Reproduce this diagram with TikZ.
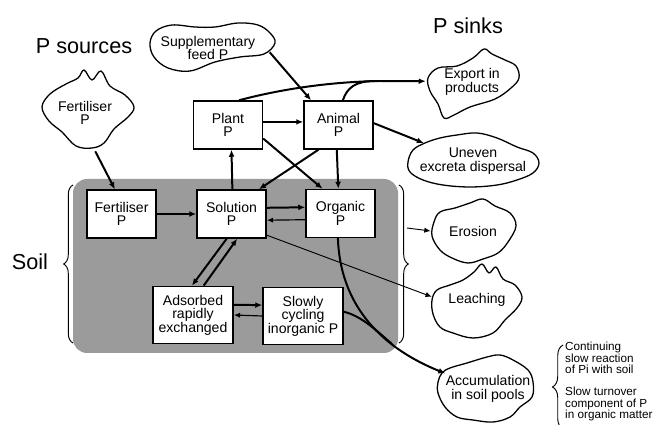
\documentclass[tikz,border=0pt]{standalone}
\usepackage{fontspec}
\setmainfont{Liberation Sans}
\usetikzlibrary{arrows.meta,shapes.geometric,decorations.pathreplacing}
\definecolor{soilgrey}{RGB}{155,155,155}

\begin{document}
\begin{tikzpicture}[x=0.03cm,y=-0.03cm,
    pool/.style={draw,line width=1.2pt,fill=white,align=center,inner sep=0pt,
      minimum width=2.07cm,minimum height=1.44cm,font=\fontsize{12}{11.5}\selectfont},
    bigpool/.style={pool,minimum width=2.4cm,minimum height=1.72cm},
    cloudnode/.style 2 args={ellipse,inner sep=0pt,minimum width=#1,minimum height=#2},
    cloudtext/.style={align=center,inner sep=0pt,font=\fontsize{12}{11.5}\selectfont},
    blobline/.style={line width=1.1pt,line join=round},
    heading/.style={inner sep=0pt,font=\fontsize{18.5}{20}\selectfont},
    flow/.style={-{Latex[length=6pt,width=5pt]},line width=1.7pt},
    backflow/.style={-{Latex[length=5.5pt,width=4.5pt]},line width=1pt},
    thinflow/.style={-{Latex[length=5.5pt,width=4.5pt]},line width=0.8pt},
    soilbrace/.style={decorate,decoration={brace,amplitude=#1},line width=0.8pt},
    note/.style={anchor=north west,align=left,inner sep=0pt,font=\fontsize{10}{9.9}\selectfont}]
  \useasboundingbox (0,0) rectangle (659,425);
  \fill[soilgrey,rounded corners=12pt] (73,179) rectangle (398,353);

  \node[heading] (psources) at (84,46) {P sources};
  \node[heading] (psinks) at (468,26) {P sinks};
  \node[heading] (soil) at (30,262) {Soil};

  \node[pool] (plant) at (228,125) {Plant\\P};
  \node[pool] (animal) at (338.5,125) {Animal\\P};
  \node[pool] (fertsoil) at (121.5,214) {Fertiliser\\P};
  \node[pool] (solution) at (231.5,214) {Solution\\P};
  \node[pool] (organic) at (340.5,213.5) {Organic\\P};
  \node[bigpool] (adsorbed) at (193,315) {Adsorbed\\rapidly\\exchanged};
  \node[bigpool] (slowly) at (303,316) {Slowly\\cycling\\inorganic P};

  \node[cloudnode={3.75cm}{1.44cm},label={[cloudtext]center:Supplementary\\feed P}] (feed) at (208,48) {};
  \node[cloudnode={2.82cm}{2.34cm},label={[cloudtext]center:Fertiliser\\P}] (fertsource) at (85,113) {};
  \node[cloudnode={2.76cm}{2.04cm},label={[cloudtext]center:Export in\\products}] (export) at (472,82) {};
  \node[cloudnode={3.9cm}{1.62cm},label={[cloudtext]center:Uneven\\excreta dispersal}] (excreta) at (473,161) {};
  \node[cloudnode={2.52cm}{1.92cm},label={[cloudtext]center:Erosion}] (erosion) at (473,231) {};
  \node[cloudnode={2.7cm}{2.16cm},label={[cloudtext]center:Leaching}] (leaching) at (477,300) {};
  \node[cloudnode={2.88cm}{1.98cm},label={[cloudtext]center:Accumulation\\in soil pools}] (accum) at (488,389) {};

  \draw[blobline] plot[smooth cycle,tension=0.6] coordinates {(150,43) (156,31) (172,25) (195,27) (215,27) (238,23) (258,25) (270,33) (275,43) (264,54) (240,57) (215,62) (190,71) (168,68) (154,57)};
  \draw[blobline] plot[smooth cycle,tension=0.6] coordinates {(42,107) (50,94) (66,84) (78,78) (84,70) (92,80) (101,71) (110,86) (125,95) (134,107) (128,117) (114,129) (104,143) (92,148) (76,146) (62,132) (49,121)};
  \draw[blobline] plot[smooth cycle,tension=0.6] coordinates {(428,78) (438,68) (457,66) (473,58) (484,49) (492,54) (505,60) (516,66) (519,78) (511,88) (495,99) (470,107) (454,115) (444,118) (438,104) (430,91)};
  \draw[blobline] plot[smooth cycle,tension=0.6] coordinates {(408,162) (413,150) (425,143) (440,138) (457,135) (477,133) (497,138) (517,147) (533,153) (539,163) (533,173) (517,180) (497,185) (470,187) (443,185) (423,180) (410,172)};
  \draw[blobline] plot[smooth cycle,tension=0.6] coordinates {(432,236) (434,222) (440,212) (455,208) (470,203) (483,199) (495,206) (510,213) (516,226) (508,242) (498,253) (483,259) (468,263) (452,258) (440,250)};
  \draw[blobline] plot[smooth cycle,tension=0.6] coordinates {(432,300) (437,290) (450,285) (463,280) (474,272) (482,264) (489,273) (496,267) (503,279) (515,285) (522,297) (517,308) (505,320) (493,333) (473,338) (453,333) (440,327) (433,314)};
  \draw[blobline] plot[smooth cycle,tension=0.6] coordinates {(438,382) (442,373) (450,368) (467,363) (487,357) (500,355) (513,360) (528,370) (533,382) (532,397) (520,407) (510,417) (493,422) (473,420) (457,417) (445,407) (438,393)};

  \draw[flow] (feed.-4) -- (animal.138);
  \draw[flow] (fertsource.-75) -- (fertsoil.105);
  \draw[flow] (plant.5) -- (animal.175);
  \draw[flow] (plant.66) .. controls (270,92) and (320,82) .. (380,81) -- (export.179);
  \draw[line width=1.7pt] (animal.80) .. controls (347,88) and (355,81) .. (375,81);
  \draw[flow] (animal.3) -- (excreta.160);
  \draw[flow] (animal.266) -- (organic.95);
  \draw[flow] (animal.231) -- (solution.42);
  \draw[flow] (plant.-21) -- (organic.126);
  \draw[flow] (solution.88) -- (plant.-82);
  \draw[flow] (fertsoil.east) -- (fertsoil.east -| solution.west);
  \draw[flow] (solution.10) -- (organic.170);
  \draw[backflow] (organic.190) -- (solution.-10);
  \draw[flow] (solution.259) -- (adsorbed.92);
  \draw[flow] (adsorbed.70) -- (solution.283);
  \draw[flow] (adsorbed.14) -- (slowly.165);
  \draw[backflow] (slowly.west) -- (adsorbed.east);
  \draw[thinflow] (solution.-31) -- (leaching.176);
  \draw[flow] (organic.264) .. controls (340,300) and (375,345) .. (accum.160);
  \draw[line width=1.7pt] (slowly.6) .. controls (362,316) and (378,332) .. (392,344);

  \draw[soilbrace=8pt] (73,343) -- (73,185);
  \draw[soilbrace=8pt] (399,185) -- (399,343);
  \coordinate (soilout) at (407,228);
  \draw[thinflow] (soilout) -- (erosion.west);

  \draw[soilbrace=9pt] (563,429) -- (563,345);
  \node[note] (slowreact) at (565,342) {Continuing\\slow reaction\\of Pi with soil};
  \node[note] (slowturn) at (565,387) {Slow turnover\\component of P\\in organic matter};
\end{tikzpicture}
\end{document}
